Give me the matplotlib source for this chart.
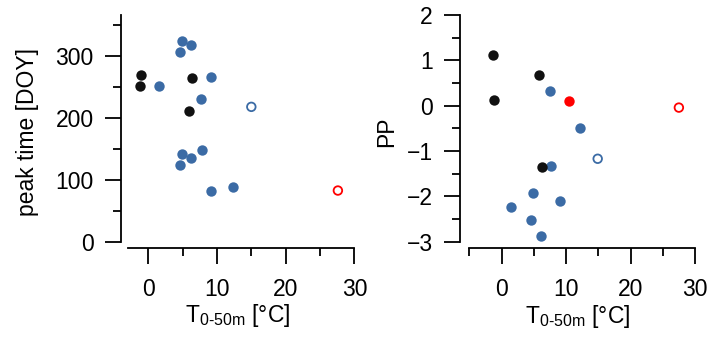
import numpy as np
import matplotlib
matplotlib.use("Agg")
from matplotlib import pyplot as plt

plt.rcParams['font.family'] = ['Liberation Sans', 'DejaVu Sans']
plt.rcParams['mathtext.fontset'] = 'custom'
plt.rcParams['mathtext.rm'] = 'Liberation Sans'

BLUE = '#3b6ba5'
BLACK = '#111111'
RED = '#ff0000'

# left panel: peak time
peak_blue_x = [4.95, 6.2, 4.66, 9.2, 1.6, 7.67, 7.8, 4.95, 6.2, 4.66, 9.2, 12.3]
peak_blue_y = [325, 318, 307, 266, 251, 231, 149, 142, 135, 124, 83, 89]
peak_black_x = [-1.06, -1.16, 6.4, 5.97]
peak_black_y = [269, 251, 264, 212]
peak_open_blue = (15.0, 218)
peak_open_red = (27.6, 83)

# right panel: PP
pp_blue_x = [7.55, 12.16, 7.7, 4.81, 9.1, 1.4, 4.5, 6.05]
pp_blue_y = [0.32, -0.50, -1.32, -1.92, -2.10, -2.24, -2.53, -2.88]
pp_black_x = [-1.35, -1.24, 5.74, 6.26]
pp_black_y = [1.13, 0.12, 0.67, -1.35]
pp_red_filled = (10.45, 0.11)
pp_open_blue = (14.9, -1.17)
pp_open_red = (27.5, -0.04)

xlabel = 'T$_{\\mathregular{0\u201050m}}$ [°C]'
fs = 16.5


def style(ax, xb, yb, xmaj, xmin, ymaj, ymin):
    for s in ['top', 'right']:
        ax.spines[s].set_visible(False)
    for s in ['left', 'bottom']:
        ax.spines[s].set_linewidth(1.3)
    ax.spines['bottom'].set_bounds(*xb)
    ax.spines['left'].set_bounds(*yb)
    ax.set_xticks(xmaj)
    ax.set_xticks(xmin, minor=True)
    ax.set_yticks(ymaj)
    ax.set_yticks(ymin, minor=True)
    ax.tick_params(which='major', length=11.5, width=1.3, labelsize=fs, pad=10)
    ax.tick_params(which='minor', length=5.8, width=1.3)
    ax.tick_params(axis='y', which='major', pad=8)


fig = plt.figure(figsize=(7.25, 3.38), dpi=100)

ax1 = fig.add_axes([0.1666, 0.2657, 0.3222, 0.6896])
ax1.set_xlim(-4, 30)
ax1.set_ylim(-10, 366)
ax1.scatter(peak_blue_x, peak_blue_y, s=56, color=BLUE, lw=0, clip_on=False)
ax1.scatter(peak_black_x, peak_black_y, s=56, color=BLACK, lw=0, clip_on=False)
ax1.scatter(*peak_open_blue, s=38, facecolor='none', edgecolor=BLUE, lw=1.3, clip_on=False)
ax1.scatter(*peak_open_red, s=38, facecolor='none', edgecolor=RED, lw=1.3, clip_on=False)
style(ax1, (-3, 30), (0, 366), [0, 10, 20, 30], [5, 15, 25],
      [0, 100, 200, 300], [50, 150, 250, 350])
ax1.set_xlabel(xlabel, fontsize=fs, labelpad=1)
ax1.set_ylabel('peak time [DOY]', fontsize=fs, labelpad=12)

ax2 = fig.add_axes([0.6342, 0.265, 0.3244, 0.690])
ax2.set_xlim(-6.5, 30)
ax2.set_ylim(-3.15, 2.0)
ax2.scatter(pp_blue_x, pp_blue_y, s=56, color=BLUE, lw=0, clip_on=False)
ax2.scatter(pp_black_x, pp_black_y, s=56, color=BLACK, lw=0, clip_on=False)
ax2.scatter(*pp_red_filled, s=56, color=RED, lw=0, clip_on=False)
ax2.scatter(*pp_open_blue, s=38, facecolor='none', edgecolor=BLUE, lw=1.3, clip_on=False)
ax2.scatter(*pp_open_red, s=38, facecolor='none', edgecolor=RED, lw=1.3, clip_on=False)
style(ax2, (-5, 30), (-3, 2), [0, 10, 20, 30], [-5, 5, 15, 25],
      [-3, -2, -1, 0, 1, 2], [-2.5, -1.5, -0.5, 0.5, 1.5])
ax2.set_xlabel(xlabel, fontsize=fs, labelpad=1)
ax2.set_ylabel('PP', fontsize=fs, labelpad=6)

fig.savefig('out.png', dpi=100)
